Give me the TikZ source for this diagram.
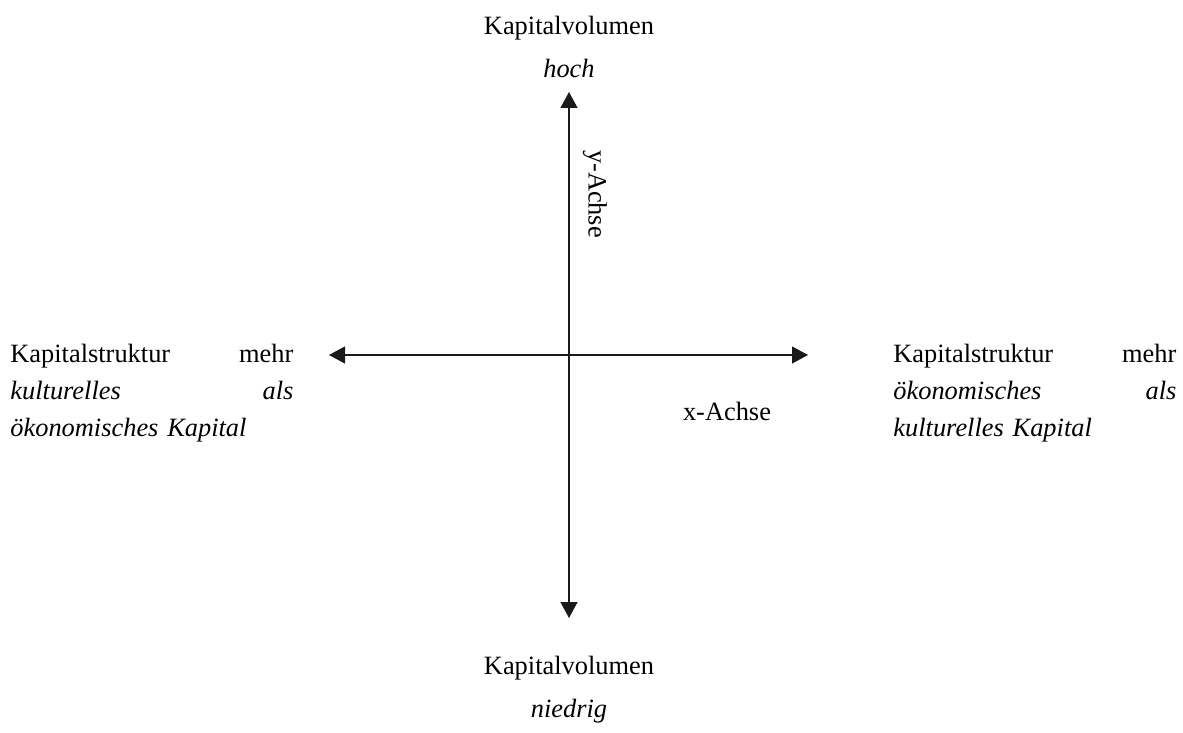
\documentclass[tikz,border=0pt]{standalone}
\usepackage{fontspec}
\setmainfont{Liberation Serif}
\usetikzlibrary{arrows.meta,positioning}
\definecolor{AxInk}{HTML}{1A1A1A}
\tikzset{
  axis/.style={{Triangle[length=8pt,width=8.5pt]}-{Triangle[length=8pt,width=8.5pt]},AxInk,line width=0.6pt},
  pole/.style={text=black,font=\fontsize{13.2}{21.5}\selectfont,align=center,inner sep=0pt},
  side/.style={text=black,font=\fontsize{13.2}{18.5}\selectfont,text width=141.5pt,align=left,inner sep=0pt},
  axlabel/.style={text=black,font=\fontsize{13.2}{16}\selectfont,inner sep=0pt},
}
\begin{document}
\begin{tikzpicture}[x=0.5pt,y=-0.5pt]
  \useasboundingbox (0,0) rectangle (1183,733);

  % axis ends
  \coordinate (origin) at (569,355);
  \coordinate (ytop) at (569,92);
  \coordinate (ybot) at (569,618);
  \coordinate (xleft) at (329,355);
  \coordinate (xright) at (808,355);

  \draw[axis] (ybot) -- (ytop);
  \draw[axis] (xleft) -- (xright);

  \node[axlabel,rotate=-90] (ylabel) at (595,194) {y-Achse};
  \node[axlabel] (xlabel) at (727,411) {x-Achse};

  \node[pole] (high) at (569,47) {Kapitalvolumen\\ \textit{hoch}};
  \node[pole] (low) at (569,690) {Kapitalvolumen\\ \textit{niedrig}};

  \node[side,anchor=west] (cult) at (10,393)
    {Kapitalstruktur\hfill mehr\\ \textit{kulturelles\hfill als}\\ \textit{ökonomisches Kapital}};
  \node[side,anchor=west] (econ) at (893,393)
    {Kapitalstruktur\hfill mehr\\ \textit{ökonomisches\hfill als}\\ \textit{kulturelles Kapital}};
\end{tikzpicture}
\end{document}
